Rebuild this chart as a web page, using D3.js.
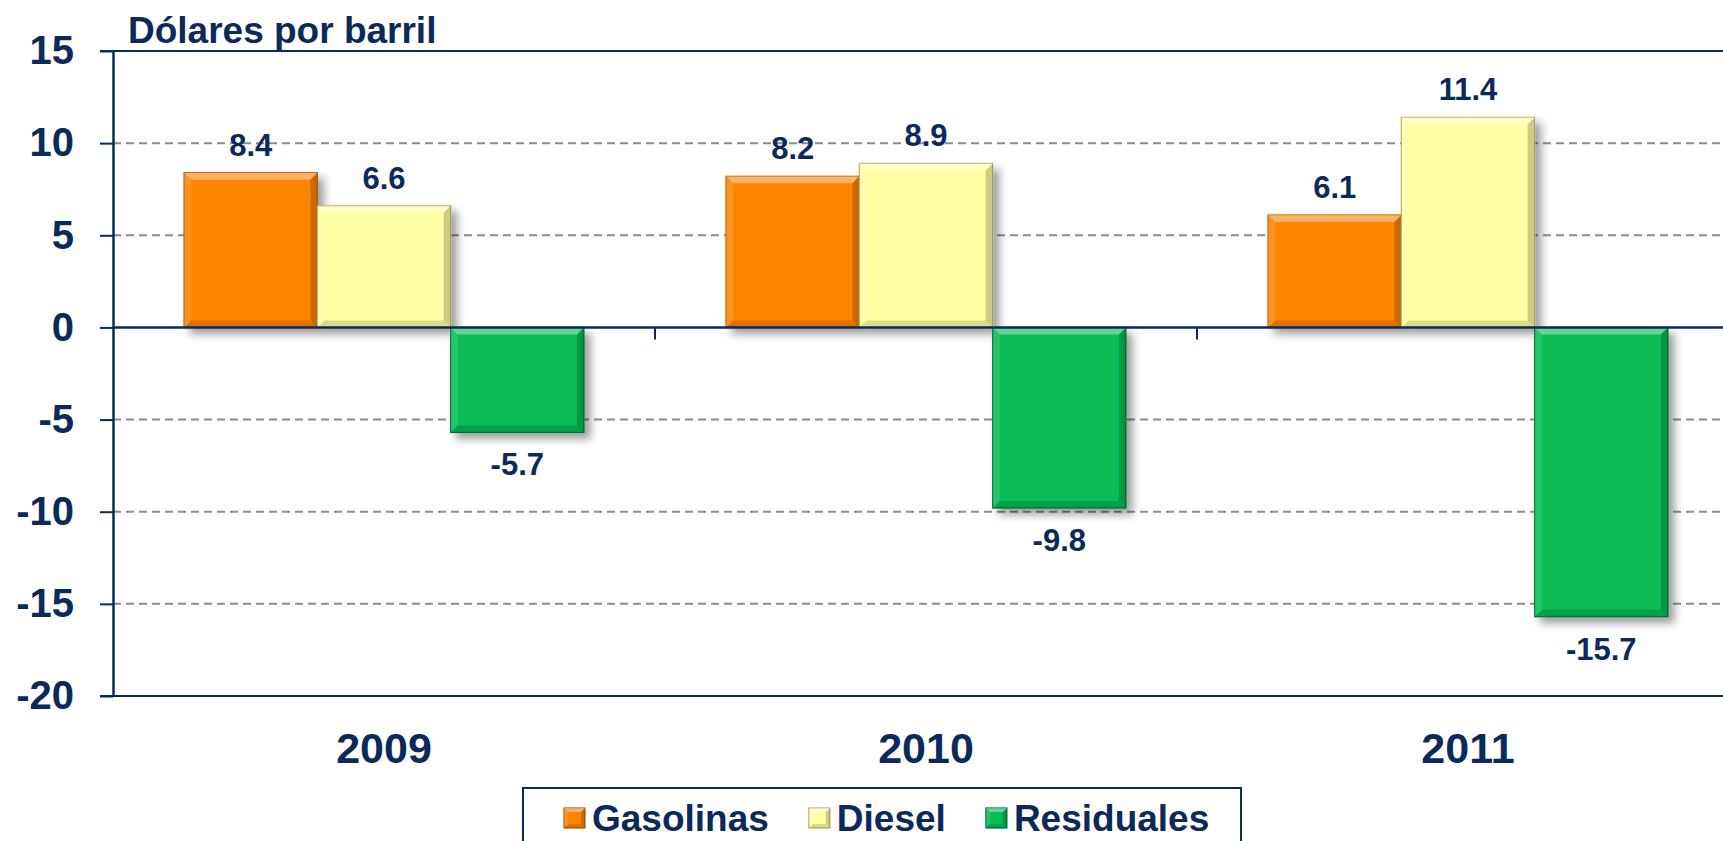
<!DOCTYPE html>
<html>
<head>
<meta charset="utf-8">
<script src="https://cdn.jsdelivr.net/npm/d3@7"></script>
<style>
  body { margin: 0; background: white; }
  svg { display: block; }
</style>
</head>
<body>
<div id="viz-container"></div>
<script>
// data
let years = ["2009", "2010", "2011"];
let seriesNames = ["Gasolinas", "Diesel", "Residuales"];
let gasolinas = [8.4, 8.2, 6.1];
let diesel = [6.6, 8.9, 11.4];
let residuales = [-5.7, -9.8, -15.7];
let yTicks = [15, 10, 5, 0, -5, -10, -15, -20];

let seriesValues = [gasolinas, diesel, residuales];
let colors = ["#ff8506", "#ffffa3", "#07bc57"];
let edgeColors = ["#b85c00", "#b0b070", "#04703a"];
let navy = "#0b2a5a";
let font = "'Liberation Sans', Arial, Helvetica, sans-serif";

let width = 1723, height = 841;

let viz = d3.select("#viz-container")
  .append("svg")
    .attr("width", width)
    .attr("height", height)
    .attr("font-family", font)
    .attr("font-weight", "bold")
;

// drop shadow under the bars
let defs = viz.append("defs");
defs.append("filter")
    .attr("id", "shadow")
    .attr("x", "-20%").attr("y", "-20%")
    .attr("width", "150%").attr("height", "150%")
  .append("feDropShadow")
    .attr("dx", 6)
    .attr("dy", 6)
    .attr("stdDeviation", 4)
    .attr("flood-color", "#000")
    .attr("flood-opacity", 0.38)
;

// scales - plot runs past the right edge like the original
let x0 = d3.scaleBand().domain(years).range([113, 1739]);
let x1 = d3.scaleBand().domain(seriesNames).range([0, x0.bandwidth()]).paddingOuter(0.533);
let y = d3.scaleLinear().domain([-20, 15]).range([696, 51]);

// dashed gridlines
viz.append("g")
  .selectAll("line")
  .data(yTicks.filter(d => d !== 15 && d !== -20 && d !== 0))
  .enter()
  .append("line")
    .attr("x1", 113)
    .attr("x2", width)
    .attr("y1", d => y(d))
    .attr("y2", d => y(d))
    .attr("stroke", "#8c8c8c")
    .attr("stroke-width", 2)
    .attr("stroke-dasharray", "8,5")
;

// top and bottom solid lines
viz.append("g")
  .selectAll("line")
  .data([15, -20])
  .enter()
  .append("line")
    .attr("x1", 100)
    .attr("x2", width)
    .attr("y1", d => y(d))
    .attr("y2", d => y(d))
    .attr("stroke", navy)
    .attr("stroke-width", 2)
;

// y axis (plain hyphen for negatives, like the original)
let yAxis = viz.append("g")
    .attr("transform", "translate(113,0)")
    .call(d3.axisLeft(y).tickValues(yTicks).tickFormat(d => String(d))
      .tickSize(13).tickSizeOuter(0).tickPadding(26))
;
yAxis.select(".domain").attr("stroke", navy).attr("stroke-width", 2.5);
yAxis.selectAll(".tick line").attr("stroke", navy).attr("stroke-width", 2);
yAxis.selectAll(".tick text")
    .attr("fill", navy)
    .attr("font-size", 40)
    .attr("font-family", font)
    .attr("font-weight", "bold")
;

// bars
let groups = viz.selectAll(".yeargroup").data(years).enter()
  .append("g")
    .attr("class", "yeargroup")
    .attr("transform", d => "translate(" + x0(d) + ",0)")
;

function barData(year, i) {
  return seriesNames.map((s, k) => ({ year: year, series: s, k: k, value: seriesValues[k][i] }));
}

let bars = groups.selectAll(".bar")
  .data((d, i) => barData(d, i))
  .enter()
  .append("g")
    .attr("class", "bar")
;

function drawBevel(sel, bx, by, bw, bh, b, fillColor, edge) {
  sel.append("rect")
      .attr("x", bx).attr("y", by)
      .attr("width", bw).attr("height", bh)
      .attr("fill", fillColor)
      .attr("stroke", edge)
      .attr("stroke-width", 1.2)
  ;
  let pts = [
    [[bx, by], [bx + bw, by], [bx + bw - b, by + b], [bx + b, by + b], "#fff", 0.38],
    [[bx, by + bh], [bx + bw, by + bh], [bx + bw - b, by + bh - b], [bx + b, by + bh - b], "#000", 0.14],
    [[bx, by], [bx + b, by + b], [bx + b, by + bh - b], [bx, by + bh], "#fff", 0.12],
    [[bx + bw, by], [bx + bw - b, by + b], [bx + bw - b, by + bh - b], [bx + bw, by + bh], "#000", 0.2]
  ];
  pts.forEach(p => {
    sel.append("polygon")
        .attr("points", p.slice(0, 4).map(q => q.join(",")).join(" "))
        .attr("fill", p[4])
        .attr("fill-opacity", p[5])
    ;
  });
}

bars.each(function(d) {
  let g = d3.select(this).attr("filter", "url(#shadow)");
  let top = y(Math.max(0, d.value));
  let h = Math.abs(y(d.value) - y(0));
  drawBevel(g, x1(d.series), top, x1.bandwidth(), h, 7, colors[d.k], edgeColors[d.k]);
});

// value labels
groups.selectAll(".vlabel")
  .data((d, i) => barData(d, i))
  .enter()
  .append("text")
    .attr("class", "vlabel")
    .attr("x", d => x1(d.series) + x1.bandwidth() / 2)
    .attr("y", d => d.value >= 0 ? y(d.value) - 17 : y(d.value) + 43)
    .attr("text-anchor", "middle")
    .attr("font-size", 31)
    .attr("fill", navy)
    .text(d => d.value.toFixed(1))
;

// zero line on top of bars
viz.append("line")
    .attr("x1", 113)
    .attr("x2", width)
    .attr("y1", y(0))
    .attr("y2", y(0))
    .attr("stroke", navy)
    .attr("stroke-width", 2.5)
;

// category ticks between the groups
viz.append("g")
  .selectAll("line")
  .data(years.slice(1))
  .enter()
  .append("line")
    .attr("x1", d => x0(d))
    .attr("x2", d => x0(d))
    .attr("y1", y(0))
    .attr("y2", y(0) + 12)
    .attr("stroke", navy)
    .attr("stroke-width", 2)
;

// year labels
viz.append("g")
  .selectAll("text")
  .data(years)
  .enter()
  .append("text")
    .attr("x", d => x0(d) + x0.bandwidth() / 2)
    .attr("y", 763)
    .attr("text-anchor", "middle")
    .attr("font-size", 43)
    .attr("fill", navy)
    .text(d => d)
;

// unit title
viz.append("text")
    .attr("x", 128)
    .attr("y", 43)
    .attr("font-size", 37)
    .attr("fill", navy)
    .text("Dólares por barril")
;

// legend
viz.append("rect")
    .attr("x", 523)
    .attr("y", 788)
    .attr("width", 718)
    .attr("height", 80)
    .attr("fill", "white")
    .attr("stroke", navy)
    .attr("stroke-width", 2)
;

let lx = 564;
seriesNames.forEach((s, k) => {
  let item = viz.append("g");
  drawBevel(item, lx, 808, 21, 20, 4, colors[k], edgeColors[k]);
  let t = item.append("text")
      .attr("x", lx + 28)
      .attr("y", 831)
      .attr("font-size", 37)
      .attr("fill", navy)
      .text(s)
  ;
  lx += 28 + t.node().getComputedTextLength() + 40;
});
</script>
</body>
</html>
